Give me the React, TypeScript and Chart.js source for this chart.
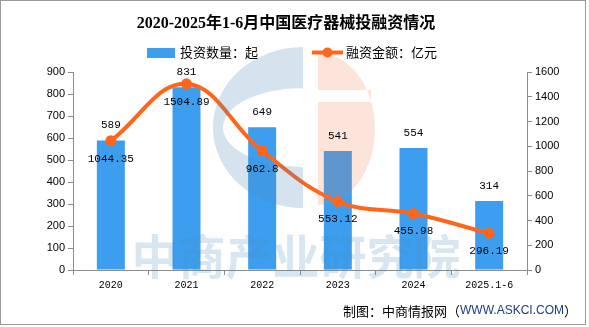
import React, { useEffect, useRef } from "react";
import { Chart, registerables } from "chart.js";

Chart.register(...registerables);

const categories = ["2020", "2021", "2022", "2023", "2024", "2025.1-6"];
const investCount = [589, 831, 649, 541, 554, 314];
const financeAmount = [1044.35, 1504.89, 962.8, 553.12, 455.98, 296.19];
const countLabels = ["589", "831", "649", "541", "554", "314"];
const amountLabels = ["1044.35", "1504.89", "962.8", "553.12", "455.98", "296.19"];

const TITLE = "2020-2025年1-6月中国医疗器械投融资情况";
const LEGEND_BAR = "投资数量：起";
const LEGEND_LINE = "融资金额：亿元";
const FOOT_A = "制图：中商情报网（";
const FOOT_B = "WWW.ASKCI.COM";
const FOOT_C = "）";
const WATERMARK = "中商产业研究院";

const BAR_COLOR = "#3d9ef0";
const LINE_COLOR = "#ff661c";
const AXIS_COLOR = "#8c8c8c";
const CJK = "'Noto Sans CJK SC', 'Liberation Sans', sans-serif";
const MONO = "'Liberation Mono', 'DejaVu Sans Mono', monospace";

const decorPlugin = {
  id: "decor",
  beforeDraw(chart: any) {
    const ctx = chart.ctx;
    ctx.save();
    ctx.fillStyle = "#ffffff";
    ctx.fillRect(0, 0, chart.width, chart.height);
    ctx.restore();
  },
  afterDatasetsDraw(chart: any) {
    const ctx = chart.ctx;
    // logo watermark: blue "C" shape
    ctx.save();
    ctx.globalAlpha = 0.24;
    ctx.fillStyle = "#4a8cba";
    ctx.beginPath();
    ctx.moveTo(303, 47);
    ctx.ellipse(303, 127.5, 90, 80.5, 0, -Math.PI / 2, Math.PI / 2, true);
    ctx.closePath();
    ctx.moveTo(303, 88);
    ctx.ellipse(303, 127.5, 80, 39.5, 0, -Math.PI / 2, Math.PI / 2, true);
    ctx.closePath();
    ctx.fill("evenodd");
    ctx.restore();

    // peach half ellipse with a horizontal gap
    ctx.save();
    ctx.globalAlpha = 0.2;
    ctx.fillStyle = "#f07846";
    ctx.beginPath();
    ctx.moveTo(318, 53);
    ctx.ellipse(318, 129, 57, 76, 0, -Math.PI / 2, Math.PI / 2, false);
    ctx.closePath();
    ctx.rect(318, 90, 53, 12);
    ctx.fill("evenodd");
    ctx.restore();

    // watermark text
    ctx.save();
    ctx.globalAlpha = 0.22;
    ctx.fillStyle = "#4a8cba";
    ctx.font = `bold 47px ${CJK}`;
    ctx.textAlign = "center";
    ctx.textBaseline = "middle";
    ctx.fillText(WATERMARK, 296, 256);
    ctx.restore();
  },
  afterDraw(chart: any) {
    const ctx = chart.ctx;
    ctx.save();
    // border
    ctx.strokeStyle = "#999999";
    ctx.lineWidth = 1;
    ctx.strokeRect(0.5, 0.5, 585, 324);

    // title
    ctx.fillStyle = "#000000";
    ctx.font = `bold 16px 'Liberation Serif', ${CJK}`;
    ctx.textAlign = "center";
    ctx.textBaseline = "middle";
    ctx.fillText(TITLE, 286, 24);

    // legend
    ctx.fillStyle = BAR_COLOR;
    ctx.fillRect(147, 48, 28, 10);
    ctx.fillStyle = "#000000";
    ctx.font = `13px ${CJK}`;
    ctx.textAlign = "left";
    ctx.fillText(LEGEND_BAR, 180, 52.5);
    ctx.strokeStyle = LINE_COLOR;
    ctx.lineWidth = 4;
    ctx.beginPath();
    ctx.moveTo(312, 52.5);
    ctx.lineTo(343, 52.5);
    ctx.stroke();
    ctx.fillStyle = LINE_COLOR;
    ctx.beginPath();
    ctx.arc(327.5, 52.5, 5, 0, Math.PI * 2);
    ctx.fill();
    ctx.fillStyle = "#000000";
    ctx.fillText(LEGEND_LINE, 346, 52.5);

    // data labels
    const barMeta = chart.getDatasetMeta(0);
    const lineMeta = chart.getDatasetMeta(1);
    ctx.font = `11px ${MONO}`;
    ctx.textAlign = "center";
    ctx.fillStyle = "#000000";
    barMeta.data.forEach((el: any, i: number) => {
      ctx.fillText(countLabels[i], el.x, el.y - 15);
    });
    lineMeta.data.forEach((el: any, i: number) => {
      ctx.fillText(amountLabels[i], el.x, el.y + 18);
    });

    // footer
    ctx.textBaseline = "middle";
    ctx.textAlign = "left";
    ctx.font = `13px ${CJK}`;
    const wA = ctx.measureText(FOOT_A).width;
    const wC = ctx.measureText(FOOT_C).width;
    ctx.font = `12px 'Liberation Sans', sans-serif`;
    const wB = ctx.measureText(FOOT_B).width;
    const right = 577;
    let x = right - wA - wB - wC;
    ctx.font = `13px ${CJK}`;
    ctx.fillStyle = "#000000";
    ctx.fillText(FOOT_A, x, 311);
    x += wA;
    ctx.font = `12px 'Liberation Sans', sans-serif`;
    ctx.fillStyle = "#1b3c8c";
    ctx.fillText(FOOT_B, x, 311);
    x += wB;
    ctx.font = `13px ${CJK}`;
    ctx.fillStyle = "#000000";
    ctx.fillText(FOOT_C, x, 311);
    ctx.restore();
  },
};

export default function App() {
  const ref = useRef<HTMLCanvasElement | null>(null);
  useEffect(() => {
    document.body.style.margin = "0";
    const canvas = ref.current;
    if (!canvas) return;
    const chart = new Chart(canvas, {
      type: "bar",
      data: {
        labels: categories,
        datasets: [
          {
            type: "bar",
            label: LEGEND_BAR,
            data: investCount,
            backgroundColor: BAR_COLOR,
            yAxisID: "y",
            barPercentage: 0.74,
            categoryPercentage: 0.5,
            order: 2,
          },
          {
            type: "line",
            label: LEGEND_LINE,
            data: financeAmount,
            borderColor: LINE_COLOR,
            backgroundColor: LINE_COLOR,
            borderWidth: 4,
            pointRadius: 5.5,
            pointBackgroundColor: LINE_COLOR,
            pointBorderWidth: 0,
            tension: 0.4,
            yAxisID: "y1",
            order: 1,
          },
        ],
      },
      options: {
        responsive: false,
        animation: false,
        devicePixelRatio: 1,
        layout: { padding: { top: 72, bottom: 30, left: 0, right: 0 } },
        plugins: {
          legend: { display: false },
          title: { display: false },
          tooltip: { enabled: false },
        },
        scales: {
          x: {
            offset: true,
            grid: {
              display: true,
              drawOnChartArea: false,
              drawTicks: true,
              tickLength: 5,
              offset: true,
              color: AXIS_COLOR,
            },
            border: { display: true, color: AXIS_COLOR },
            ticks: {
              color: "#000000",
              font: { family: MONO, size: 10 },
              padding: 4,
              maxRotation: 0,
              autoSkip: false,
            },
            afterFit(scale: any) {
              scale.height = 27;
            },
          },
          y: {
            position: "left",
            min: 0,
            max: 900,
            grid: {
              display: true,
              drawOnChartArea: false,
              drawTicks: true,
              tickLength: 5,
              color: AXIS_COLOR,
            },
            border: { display: true, color: AXIS_COLOR },
            ticks: {
              stepSize: 100,
              color: "#000000",
              font: { family: "'Liberation Sans', sans-serif", size: 11 },
              padding: 3,
              callback: (v: any) => String(v),
            },
            afterFit(scale: any) {
              scale.width = 73;
            },
          },
          y1: {
            position: "right",
            min: 0,
            max: 1600,
            grid: {
              display: true,
              drawOnChartArea: false,
              drawTicks: true,
              tickLength: 5,
              color: AXIS_COLOR,
            },
            border: { display: true, color: AXIS_COLOR },
            ticks: {
              stepSize: 200,
              color: "#000000",
              font: { family: "'Liberation Sans', sans-serif", size: 11 },
              padding: 3,
              callback: (v: any) => String(v),
            },
            afterFit(scale: any) {
              scale.width = 62;
            },
          },
        },
      },
      plugins: [decorPlugin],
    });
    return () => chart.destroy();
  }, []);
  return (
    <div style={{ width: 589, height: 327 }}>
      <canvas ref={ref} width={589} height={327} style={{ display: "block", width: 589, height: 327 }} />
    </div>
  );
}
